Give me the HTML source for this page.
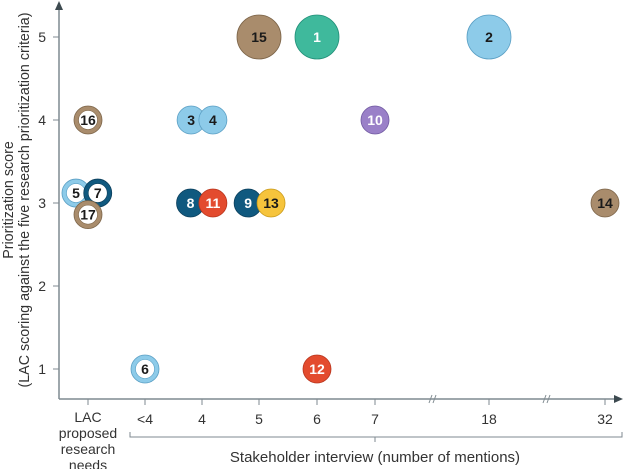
<!DOCTYPE html>
<html><head><meta charset="utf-8"><style>
html,body{margin:0;padding:0;background:#fff;}
svg{display:block;font-family:"Liberation Sans",sans-serif;}
</style></head><body>
<svg id="chart" width="624" height="469" viewBox="0 0 624 469"></svg>
<script>
const categories = ["LAC", "<4", "4", "5", "6", "7", "18", "32"];
const yTicks = [1, 2, 3, 4, 5];
const labels = ["1","2","3","4","5","6","7","8","9","10","11","12","13","14","15","16","17"];
const catIndex = [4, 6, 2, 2, 0, 1, 0, 2, 3, 5, 2, 4, 3, 7, 3, 0, 0];
const catJitter = [0, 0, -0.19, 0.19, -0.21, 0, 0.17, -0.2, -0.19, 0, 0.19, 0, 0.21, 0, 0, 0, 0];
const scores = [5, 5, 4, 4, 3, 1, 3, 3, 3, 4, 3, 1, 3, 3, 5, 4, 3];
const scoreJitter = [0, 0, 0, 0, 0.12, 0, 0.12, 0, 0, 0, 0, 0, 0, 0, 0, 0, -0.14];
const sizes = [22, 22, 14, 14, 14, 14, 14, 14, 14, 14, 14, 14, 14, 14, 22, 14, 14];
const groups = ["teal","lightblue","lightblue","lightblue","lightblue-ring","lightblue-ring","darkblue-ring","darkblue","darkblue","purple","red","red","yellow","brown","brown","brown-ring","brown-ring"];

const colors = {teal:"#3fb99c",lightblue:"#8dcbe9",darkblue:"#10597f",purple:"#9a80c8",red:"#e34b2e",yellow:"#f6c43c",brown:"#a98c6c"};
const strokes = {teal:"#23917a",lightblue:"#5a9fc4",darkblue:"#0b3f5c",purple:"#6f58a0",red:"#b8341c",yellow:"#c99a1a",brown:"#7c6448"};
const whiteText = {teal:1,darkblue:1,purple:1,red:1};

const NS="http://www.w3.org/2000/svg";
const svg=document.getElementById('chart');
function el(tag,attrs,parent){const e=document.createElementNS(NS,tag);for(const k in attrs)e.setAttribute(k,attrs[k]);(parent||svg).appendChild(e);return e;}
const catX=[88,145,202,259,317,375,489,605];
function xPos(i,j){return catX[i]+j*57.3;}
function yScale(v){return 369-(v-1)*83;}

const ax=el('g',{});


el('line',{x1:59,y1:8,x2:59,y2:399,stroke:"#7f8a90","stroke-width":1.5},ax);
el('polygon',{points:"59,1 55,10 63,10",fill:"#3d4a50"},ax);
el('line',{x1:59,y1:399,x2:616,y2:399,stroke:"#7f8a90","stroke-width":1.5},ax);
el('polygon',{points:"623,399 614,395 614,403",fill:"#3d4a50"},ax);
[433,547].forEach(bx=>{
  const b=el('g',{},ax);
  
  
  el('line',{x1:bx-4,y1:403,x2:bx-1,y2:395,stroke:"#7f8a90","stroke-width":1},b);
  el('line',{x1:bx,y1:403,x2:bx+3,y2:395,stroke:"#7f8a90","stroke-width":1},b);
});
yTicks.forEach(v=>{
  const y=yScale(v);
  el('line',{x1:53,y1:y,x2:59,y2:y,stroke:"#7f8a90","stroke-width":1},ax);
  const t=el('text',{x:46,y:y+5,"text-anchor":"end","font-size":14,fill:"#333"},ax);
  t.textContent=v;
  
  
});
categories.forEach((c,i)=>{
  const x=catX[i];
  el('line',{x1:x,y1:399,x2:x,y2:405,stroke:"#7f8a90","stroke-width":1},ax);
  if(i===0){
    ["LAC","proposed","research","needs"].forEach((w,k)=>{
      const t=el('text',{x:x,y:422+k*16,"text-anchor":"middle","font-size":14,fill:"#333"},ax);
      t.textContent=w;
      
      
    });
  } else {
    const t=el('text',{x:x,y:424,"text-anchor":"middle","font-size":14,fill:"#333"},ax);
    t.textContent=c;
    
    
  }
});
el('path',{d:"M130,432 L130,437 L622,437 L622,432",fill:"none",stroke:"#7f8a90","stroke-width":1},ax);
el('line',{x1:375,y1:437,x2:375,y2:442,stroke:"#7f8a90","stroke-width":1},ax);
const xt=el('text',{x:375,y:462,"text-anchor":"middle","font-size":15,fill:"#333"},ax);
xt.textContent="Stakeholder interview (number of mentions)";


const yt1=el('text',{x:0,y:0,"text-anchor":"middle","font-size":14.3,fill:"#333",transform:"translate(13,200) rotate(-90)"},ax);
yt1.textContent="Prioritization score";


const yt2=el('text',{x:0,y:0,"text-anchor":"middle","font-size":14.3,fill:"#333",transform:"translate(29,200) rotate(-90)"},ax);
yt2.textContent="(LAC scoring against the five research prioritization criteria)";



labels.forEach((lab,i)=>{
  const cx=xPos(catIndex[i],catJitter[i]);
  const cy=yScale(scores[i]+scoreJitter[i]);
  const r=sizes[i];
  const g=groups[i];
  const ring=g.endsWith('-ring');
  const base=ring?g.replace('-ring',''):g;
  const grp=el('g',{});
  
  
  el('circle',{cx:cx,cy:cy,r:r,fill:colors[base],stroke:strokes[base],"stroke-width":0.8},grp);
  if(ring) el('circle',{cx:cx,cy:cy,r:r-4.5,fill:"#fff",stroke:strokes[base],"stroke-width":0.6},grp);
  const t=el('text',{x:cx,y:cy+5,"text-anchor":"middle","font-size":14,"font-weight":"bold",fill:(!ring&&whiteText[base])?"#fff":"#1a1a1a"},grp);
  t.textContent=lab;
});
</script>
</body></html>
